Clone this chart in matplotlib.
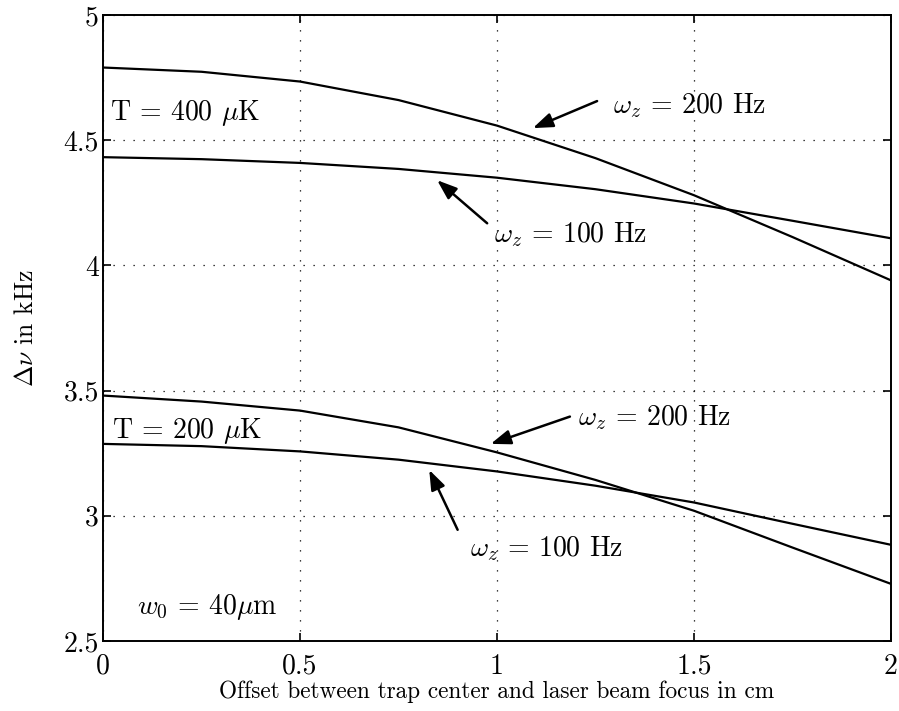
import numpy as np
import matplotlib
matplotlib.use('Agg')
import matplotlib.pyplot as plt

# values (offset in cm, delta nu in kHz)
offset = [0, 0.25, 0.5, 0.75, 1.0, 1.25, 1.5, 1.75, 2.0]
t400_w200 = [4.790, 4.773, 4.734, 4.660, 4.558, 4.428, 4.280, 4.113, 3.940]
t400_w100 = [4.432, 4.424, 4.409, 4.385, 4.350, 4.304, 4.247, 4.178, 4.108]
t200_w200 = [3.480, 3.456, 3.420, 3.353, 3.253, 3.143, 3.020, 2.873, 2.728]
t200_w100 = [3.287, 3.278, 3.257, 3.224, 3.177, 3.120, 3.053, 2.968, 2.884]

xticks = [0, 0.5, 1, 1.5, 2]
yticks = [2.5, 3, 3.5, 4, 4.5, 5]

plt.rcParams['font.family'] = 'serif'
plt.rcParams['font.serif'] = ['cmr10']
plt.rcParams['mathtext.fontset'] = 'cm'
plt.rcParams['axes.formatter.use_mathtext'] = True
plt.rcParams['font.size'] = 18

fig = plt.figure(figsize=(8.99, 7.11), dpi=100)
ax = fig.add_axes([0.1146, 0.0985, 0.8765, 0.8805])

for ys in [t400_w200, t400_w100, t200_w200, t200_w100]:
    ax.plot(offset, ys, color='k', lw=1.6)

ax.set_xlim(0, 2)
ax.set_ylim(2.5, 5)
ax.set_xticks(xticks)
ax.set_yticks(yticks)
ax.set_xticklabels(['0', '0.5', '1', '1.5', '2'])
ax.set_yticklabels(['2.5', '3', '3.5', '4', '4.5', '5'])
ax.grid(True, color='k', linestyle=(0, (1, 7)), lw=0.9)
ax.tick_params(direction='in', length=6, width=1.2, top=True, right=True, labelsize=20)
ax.tick_params(axis='x', pad=9)
ax.tick_params(axis='y', pad=3)
for s in ax.spines.values():
    s.set_linewidth(1.4)

ax.set_xlabel('Offset between trap center and laser beam focus in cm', fontsize=16.8)
ax.xaxis.set_label_coords(0.5, -0.063)
ax.set_ylabel(r'$\Delta\nu$ in kHz', fontsize=18.5)
ax.yaxis.set_label_coords(-0.083, 0.5)

ax.text(0.018, 4.58, r'T = 400 $\mu$K', fontsize=20, va='baseline', ha='left')
ax.text(0.022, 3.311, r'T = 200 $\mu$K', fontsize=20, va='baseline', ha='left')
ax.text(0.086, 2.608, r'$w_0$ = 40$\mu$m', fontsize=20, va='baseline', ha='left')

arrow = dict(arrowstyle='-|>,head_length=0.6,head_width=0.22', color='k', lw=1.8,
             mutation_scale=20, shrinkA=0, shrinkB=0)

# T = 400 uK
ax.text(1.294, 4.608, r'$\omega_z$ = 200 Hz', fontsize=20, va='baseline', ha='left')
ax.annotate('', xy=(1.091, 4.548), xytext=(1.254, 4.656), arrowprops=arrow)
ax.text(0.992, 4.093, r'$\omega_z$ = 100 Hz', fontsize=20, va='baseline', ha='left')
ax.annotate('', xy=(0.848, 4.34), xytext=(0.975, 4.168), arrowprops=arrow)

# T = 200 uK
ax.text(1.206, 3.36, r'$\omega_z$ = 200 Hz', fontsize=20, va='baseline', ha='left')
ax.annotate('', xy=(0.984, 3.287), xytext=(1.185, 3.396), arrowprops=arrow)
ax.text(0.931, 2.84, r'$\omega_z$ = 100 Hz', fontsize=20, va='baseline', ha='left')
ax.annotate('', xy=(0.828, 3.183), xytext=(0.90, 2.944), arrowprops=arrow)

fig.savefig('out.png', dpi=100)
